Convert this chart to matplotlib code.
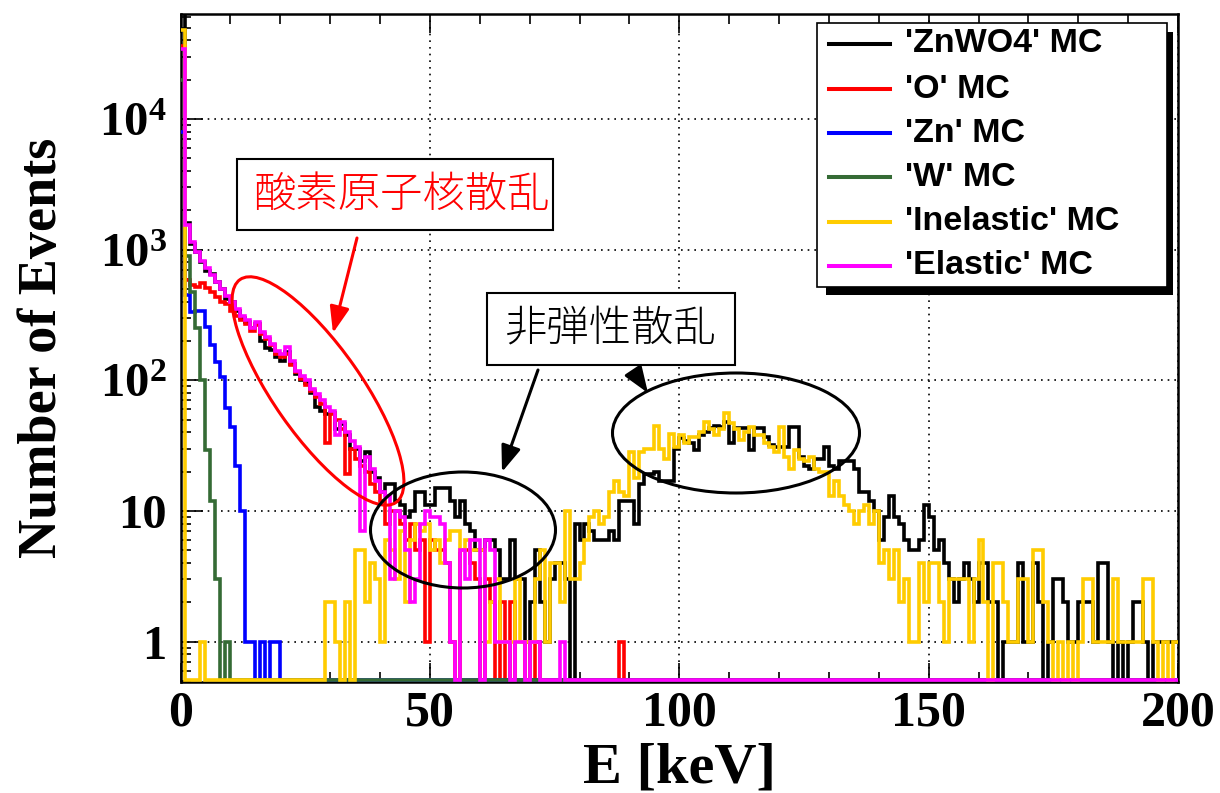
import numpy as np
import matplotlib
matplotlib.use("Agg")
import matplotlib.pyplot as plt
from matplotlib.patches import Ellipse, Rectangle, FancyArrowPatch
from matplotlib.lines import Line2D
from matplotlib.transforms import Affine2D
from matplotlib.ticker import MultipleLocator, FixedLocator, LogLocator, NullFormatter

W, H, DPI = 1220, 793, 100

# 1 keV bins from 0 to 200 keV
energy_edges = np.arange(0, 201, 1)

znwo4 = [
    80000, 1600, 1100, 960, 800, 690, 650, 560, 500, 420, 400, 340, 300, 280, 250, 270, 200, 175, 170, 150,
    140, 165, 132, 112, 100, 95, 80, 62, 58, 55, 56, 42, 46, 38, 30, 30, 24, 28, 20, 18,
    14, 16, 16, 12, 11, 9, 10, 14, 14, 11, 11, 15, 15, 15, 12, 9, 12, 8, 7, 5,
    5, 6, 6, 5, 3, 3, 6, 3, 3, 1, 2, 5, 2, 1, 3, 4, 4, 3, 0, 8,
    6, 8, 7, 6, 6, 6, 7, 6, 12, 12, 12, 8, 16, 19, 19, 20, 17, 17, 17, 30,
    36, 34, 33, 29, 38, 40, 43, 45, 44, 48, 33, 43, 43, 43, 29, 43, 43, 37, 32, 31,
    31, 31, 44, 44, 26, 22, 21, 25, 25, 31, 22, 21, 24, 24, 24, 21, 14, 14, 12, 10,
    6, 9, 13, 9, 8, 6, 5, 5, 6, 11, 9, 5, 6, 4, 3, 2, 3, 4, 3, 2,
    4, 4, 2, 2, 0, 1, 1, 1, 4, 1, 1, 4, 2, 0, 1, 3, 3, 2, 1, 1,
    2, 2, 2, 1, 4, 4, 1, 0, 1, 0, 1, 2, 2, 1, 0, 1, 1, 1, 1, 1,
]

oxygen = [
    36000, 580, 540, 520, 550, 510, 470, 430, 400, 380, 340, 310, 290, 270, 240, 265, 225, 205, 185, 160,
    150, 160, 130, 115, 102, 92, 82, 74, 66, 33, 55, 50, 42, 19, 30, 25, 22, 20, 16, 14,
    12, 8, 10, 10, 8, 6, 8, 5, 6, 1, 6, 5, 5, 4, 1, 0, 5, 5, 4, 3,
    0, 3, 2, 0, 2, 0, 2, 0, 0, 1, 0, 1, 0, 0, 0, 0, 0, 0, 0, 0,
    0, 0, 0, 0, 0, 0, 0, 0, 1, 0, 0, 0, 0, 0, 0, 0, 0, 0, 0, 0,
    0, 0, 0, 0, 0, 0, 0, 0, 0, 0, 0, 0, 0, 0, 0, 0, 0, 0, 0, 0,
    0, 0, 0, 0, 0, 0, 0, 0, 0, 0, 0, 0, 0, 0, 0, 0, 0, 0, 0, 0,
    0, 0, 0, 0, 0, 0, 0, 0, 0, 0, 0, 0, 0, 0, 0, 0, 0, 0, 0, 0,
    0, 0, 0, 0, 0, 0, 0, 0, 0, 0, 0, 0, 0, 0, 0, 0, 0, 0, 0, 0,
    0, 0, 0, 0, 0, 0, 0, 0, 0, 0, 0, 0, 0, 0, 0, 0, 0, 0, 0, 0,
]

zinc = [
    8000, 450, 330, 340, 340, 256, 186, 138, 106, 61, 44, 22, 10, 1, 1, 0, 1, 0, 1, 1,
    0, 0, 0, 0, 0, 0, 0, 0, 0, 0, 0, 0, 0, 0, 0, 0, 0, 0, 0, 0,
    0, 0, 0, 0, 0, 0, 0, 0, 0, 0, 0, 0, 0, 0, 0, 0, 0, 0, 0, 0,
    0, 0, 0, 0, 0, 0, 0, 0, 0, 0, 0, 0, 0, 0, 0, 0, 0, 0, 0, 0,
    0, 0, 0, 0, 0, 0, 0, 0, 0, 0, 0, 0, 0, 0, 0, 0, 0, 0, 0, 0,
    0, 0, 0, 0, 0, 0, 0, 0, 0, 0, 0, 0, 0, 0, 0, 0, 0, 0, 0, 0,
    0, 0, 0, 0, 0, 0, 0, 0, 0, 0, 0, 0, 0, 0, 0, 0, 0, 0, 0, 0,
    0, 0, 0, 0, 0, 0, 0, 0, 0, 0, 0, 0, 0, 0, 0, 0, 0, 0, 0, 0,
    0, 0, 0, 0, 0, 0, 0, 0, 0, 0, 0, 0, 0, 0, 0, 0, 0, 0, 0, 0,
    0, 0, 0, 0, 0, 0, 0, 0, 0, 0, 0, 0, 0, 0, 0, 0, 0, 0, 0, 0,
]

tungsten = [
    20000, 900, 470, 250, 100, 29, 12, 3, 0, 1, 0, 0, 0, 0, 0, 0, 0, 0, 0, 0,
    0, 0, 0, 0, 0, 0, 0, 0, 0, 0, 0, 0, 0, 0, 0, 0, 0, 0, 0, 0,
    0, 0, 0, 0, 0, 0, 0, 0, 0, 0, 0, 0, 0, 0, 0, 0, 0, 0, 0, 0,
    0, 0, 0, 0, 0, 0, 0, 0, 0, 0, 0, 0, 0, 0, 0, 0, 0, 0, 0, 0,
    0, 0, 0, 0, 0, 0, 0, 0, 0, 0, 0, 0, 0, 0, 0, 0, 0, 0, 0, 0,
    0, 0, 0, 0, 0, 0, 0, 0, 0, 0, 0, 0, 0, 0, 0, 0, 0, 0, 0, 0,
    0, 0, 0, 0, 0, 0, 0, 0, 0, 0, 0, 0, 0, 0, 0, 0, 0, 0, 0, 0,
    0, 0, 0, 0, 0, 0, 0, 0, 0, 0, 0, 0, 0, 0, 0, 0, 0, 0, 0, 0,
    0, 0, 0, 0, 0, 0, 0, 0, 0, 0, 0, 0, 0, 0, 0, 0, 0, 0, 0, 0,
    0, 0, 0, 0, 0, 0, 0, 0, 0, 0, 0, 0, 0, 0, 0, 0, 0, 0, 0, 0,
]

inelastic = [
    48000, 0, 0, 0, 1, 0, 0, 0, 0, 0, 0, 0, 0, 0, 0, 0, 0, 0, 0, 0,
    0, 0, 0, 0, 0, 0, 0, 0, 0, 2, 2, 1, 0, 2, 0, 5, 5, 2, 4, 3,
    1, 6, 5, 3, 7, 2, 6, 8, 7, 8, 5, 6, 4, 6, 7, 7, 5, 6, 5, 5,
    5, 1, 2, 3, 1, 1, 1, 3, 1, 1, 1, 3, 5, 1, 4, 4, 2, 10, 3, 3,
    4, 6, 9, 10, 8, 9, 14, 17, 14, 13, 28, 18, 28, 30, 30, 45, 30, 25, 39, 31,
    38, 33, 37, 37, 40, 48, 42, 38, 42, 56, 47, 42, 35, 40, 44, 38, 38, 33, 31, 28,
    44, 26, 21, 29, 25, 24, 26, 21, 20, 20, 13, 17, 13, 11, 10, 8, 10, 11, 8, 10,
    4, 5, 3, 5, 2, 3, 1, 1, 4, 2, 4, 4, 2, 1, 3, 3, 3, 3, 1, 3,
    6, 2, 0, 4, 4, 2, 1, 1, 3, 3, 1, 5, 5, 2, 1, 0, 1, 0, 1, 0,
    1, 3, 3, 1, 1, 1, 1, 3, 1, 1, 1, 1, 1, 3, 3, 1, 0, 1, 0, 1,
]

elastic = [
    34000, 1550, 1150, 950, 820, 720, 640, 560, 500, 440, 400, 350, 310, 290, 250, 280, 235, 215, 190, 168,
    158, 178, 140, 118, 108, 100, 86, 78, 70, 62, 58, 38, 48, 40, 34, 31, 7, 26, 21, 17,
    14, 13, 3, 10, 9, 5, 2, 3, 8, 10, 9, 9, 8, 4, 1, 0, 5, 3, 6, 6,
    0, 6, 5, 1, 1, 1, 0, 1, 1, 0, 1, 1, 0, 0, 0, 0, 1, 0, 0, 0,
    0, 0, 0, 0, 0, 0, 0, 0, 0, 0, 0, 0, 0, 0, 0, 0, 0, 0, 0, 0,
    0, 0, 0, 0, 0, 0, 0, 0, 0, 0, 0, 0, 0, 0, 0, 0, 0, 0, 0, 0,
    0, 0, 0, 0, 0, 0, 0, 0, 0, 0, 0, 0, 0, 0, 0, 0, 0, 0, 0, 0,
    0, 0, 0, 0, 0, 0, 0, 0, 0, 0, 0, 0, 0, 0, 0, 0, 0, 0, 0, 0,
    0, 0, 0, 0, 0, 0, 0, 0, 0, 0, 0, 0, 0, 0, 0, 0, 0, 0, 0, 0,
    0, 0, 0, 0, 0, 0, 0, 0, 0, 0, 0, 0, 0, 0, 0, 0, 0, 0, 0, 0,
]

series_labels = ["'ZnWO4' MC", "'O' MC", "'Zn' MC", "'W' MC", "'Inelastic' MC", "'Elastic' MC"]
series_colors = ["#000000", "#ff0000", "#0000ff", "#356b35", "#ffcc00", "#ff00ff"]
series_values = [znwo4, oxygen, zinc, tungsten, inelastic, elastic]

y_tick_values = [1, 10, 100, 1000, 10000]
y_tick_labels = ["1", "10", r"$\mathregular{10^{2}}$", r"$\mathregular{10^{3}}$", r"$\mathregular{10^{4}}$"]
x_tick_values = [0, 50, 100, 150, 200]

plt.rcParams["font.family"] = "Liberation Serif"
plt.rcParams["font.weight"] = "bold"
plt.rcParams["mathtext.fontset"] = "custom"
plt.rcParams["mathtext.rm"] = "Liberation Serif:bold"
plt.rcParams["mathtext.bf"] = "Liberation Serif:bold"
plt.rcParams["mathtext.it"] = "Liberation Serif:bold:italic"

fig = plt.figure(figsize=(W / DPI, H / DPI), dpi=DPI)
ax_left, ax_right, ax_top, ax_bottom = 180.5, 1178.0, 14.0, 682.0
ax = fig.add_axes([ax_left / W, 1 - ax_bottom / H, (ax_right - ax_left) / W, (ax_bottom - ax_top) / H])

y_lo, y_hi = 0.49, 6.35e4
ax.set_yscale("log")
ax.set_xlim(0, 200)
ax.set_ylim(y_lo, y_hi)

# empty bins sit on the lower frame edge, as in a log-scale ROOT histogram
floor = y_lo * 10 ** (1.8 / 130.66)
for i, (vals, color) in enumerate(zip(series_values, series_colors)):
    v = np.asarray(vals, dtype=float)
    v = np.where(v > 0, v, floor)
    ax.stairs(v, energy_edges, baseline=None, color=color, lw=2.6, zorder=3 + i)

# dotted grid at the major ticks
ax.grid(True, which="major", linestyle=(0, (1, 3)), color="black", lw=1.2)
ax.set_axisbelow(True)

for s in ax.spines.values():
    s.set_linewidth(1.8)
    s.set_zorder(2.5)

ax.xaxis.set_major_locator(FixedLocator(x_tick_values))
ax.xaxis.set_minor_locator(MultipleLocator(10))
ax.yaxis.set_major_locator(FixedLocator(y_tick_values))
ax.yaxis.set_minor_locator(LogLocator(base=10, subs=np.arange(2, 10), numticks=30))
ax.yaxis.set_minor_formatter(NullFormatter())
ax.set_yticklabels(y_tick_labels)
ax.set_xticklabels([str(t) for t in x_tick_values])

ax.tick_params(axis="x", which="both", direction="in", top=True, bottom=True, width=1.2)
ax.tick_params(axis="x", which="major", length=14, pad=6, labelsize=36)
ax.tick_params(axis="x", which="minor", length=7.5)
ax.tick_params(axis="y", which="both", direction="in", left=True, right=False, width=1.2)
ax.tick_params(axis="y", which="major", length=16, pad=10, labelsize=35)
ax.tick_params(axis="y", which="minor", length=7.5)

ax.set_xlabel("E [keV]", fontsize=42, fontweight="bold")
ax.xaxis.set_label_coords(0.5, -0.09)
ax.set_ylabel("Number of Events", fontsize=39, fontweight="bold")
ax.yaxis.set_label_coords(-0.113, 0.5)

# pixel coordinates with the origin at the top-left corner of the figure
pix = Affine2D().scale(1 / W, -1 / H).translate(0, 1) + fig.transFigure

# legend with a drop shadow
fig.add_artist(Rectangle((826, 32), 347, 263, transform=pix, facecolor="black", edgecolor="none", zorder=10))
fig.add_artist(Rectangle((817, 23), 350, 264, transform=pix, facecolor="white", edgecolor="black", lw=1.2, zorder=11))
row_y = [44, 89, 133, 177, 222, 266]
for yy, color, label in zip(row_y, series_colors, series_labels):
    fig.add_artist(Line2D([829, 890], [yy, yy], transform=pix, color=color, lw=2.9, zorder=12))
    fig.text(905 / W, 1 - yy / H, label, fontsize=24.5, fontweight="bold", family="Liberation Sans",
             va="center", ha="left", zorder=12)

# annotations
jp = ["Noto Sans CJK JP", "DejaVu Sans"]
fig.add_artist(Rectangle((237, 159), 316, 71, transform=pix, facecolor="white", edgecolor="black", lw=1.5, zorder=13))
fig.text(402 / W, 1 - 195 / H, "酸素原子核散乱", color="#ff0000", fontsize=30.5, family=jp,
         fontweight="light", ha="center", va="center", zorder=14)
fig.add_artist(Rectangle((487, 293), 248, 72, transform=pix, facecolor="white", edgecolor="black", lw=1.5, zorder=13))
fig.text(611 / W, 1 - 329 / H, "非弾性散乱", color="black", fontsize=30.5, family=jp,
         fontweight="light", ha="center", va="center", zorder=14)

fig.add_artist(Ellipse((318, 391), 272, 88, angle=55, transform=pix, fill=False, edgecolor="#ff0000", lw=2.2, zorder=13))
fig.add_artist(Ellipse((463, 530), 185, 116, transform=pix, fill=False, edgecolor="black", lw=2.2, zorder=13))
fig.add_artist(Ellipse((736, 433), 247, 120, transform=pix, fill=False, edgecolor="black", lw=2.2, zorder=13))

arrow_kw = dict(transform=pix, arrowstyle="-|>,head_length=1.6,head_width=0.6", mutation_scale=10,
                lw=2.2, shrinkA=0, shrinkB=0, zorder=13)
fig.add_artist(FancyArrowPatch((357, 238), (333, 333), color="#ff0000", **arrow_kw))
fig.add_artist(FancyArrowPatch((538, 370), (502, 472), color="black", **arrow_kw))
fig.add_artist(FancyArrowPatch((634, 372), (648, 393), color="black", **arrow_kw))

fig.savefig("out.png", dpi=DPI)
